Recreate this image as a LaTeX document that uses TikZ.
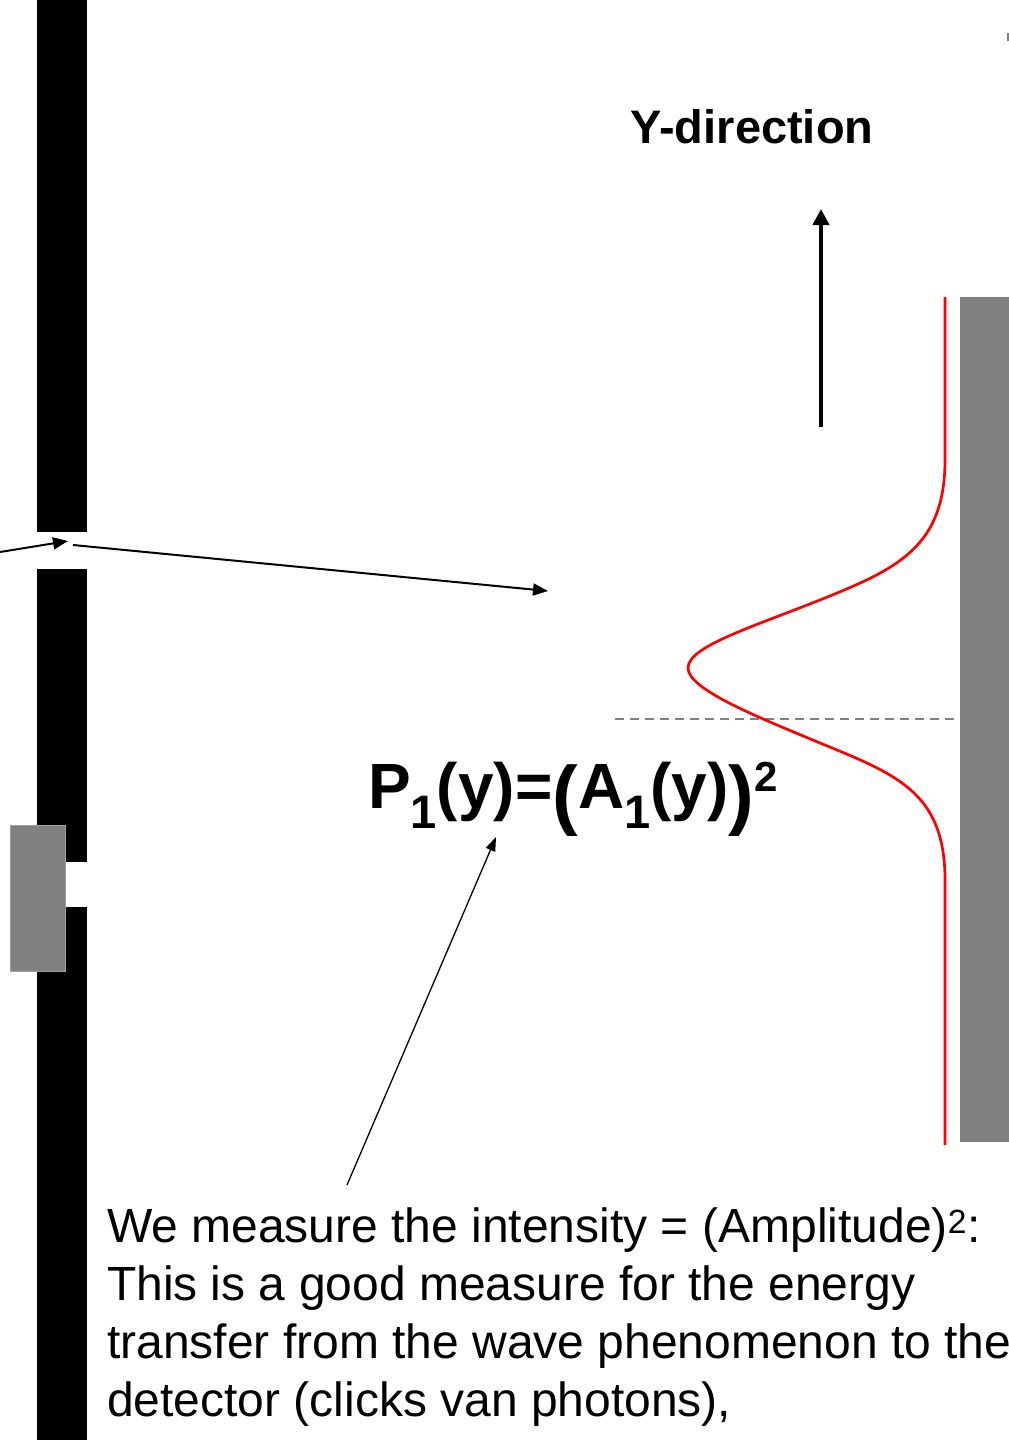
\documentclass[tikz,border=0pt]{standalone}
\usepackage{fontspec}
\setmainfont{Liberation Sans}
\usetikzlibrary{arrows.meta}
\definecolor{detgray}{RGB}{128,128,128}
\tikzset{
  wall/.style={fill=black, draw=none},
  shutter/.style={fill=detgray, draw=detgray!75!white, line width=1pt},
  ray/.style={line width=2pt, -{Triangle[length=15pt,width=12pt]}},
  pointer/.style={line width=1.3pt, -{Triangle[length=14pt,width=10pt]}},
  yarrow/.style={line width=4pt, -{Triangle[length=16pt,width=16pt]}},
  curve/.style={red, line width=2.7pt},
  axisline/.style={detgray, line width=1.5pt, dash pattern=on 9pt off 6pt},
  lbl/.style={inner sep=0pt, outer sep=0pt},
}
\begin{document}
\begin{tikzpicture}[x=1pt,y=-1pt]
\useasboundingbox (0,0) rectangle (1009,1440);
\fill[white] (0,0) rectangle (1009,1440);
% wall with slits
\fill[wall] (37,0) rectangle (87,532);
\fill[wall] (37,569) rectangle (87,862);
\fill[wall] (37,907) rectangle (87,1440);
\filldraw[shutter] (10,825) rectangle (65,971);
% detector screen
\fill[detgray] (960,297) rectangle (1009,1142);
\fill[detgray] (1007,33) rectangle (1009,41);
% dashed axis
\coordinate (axL) at (615,719);
\coordinate (axR) at (960,719);
\draw[axisline] (axL) -- (axR);
% intensity curve
\draw[curve] (945,297) -- (945,460)
  .. controls (945,540) and (905,565) .. (837,593)
  .. controls (760,625) and (688,645) .. (688,668)
  .. controls (688,690) and (760,718) .. (837,750)
  .. controls (905,778) and (945,800) .. (945,880)
  -- (945,1145);
% rays through slit
\coordinate (r0) at (0,552);
\coordinate (r1) at (68,541);
\coordinate (r2) at (73,545);
\coordinate (r3) at (548,591);
\draw[ray] (r0) -- (r1);
\draw[ray] (r2) -- (r3);
% Y direction
\coordinate (yb) at (821,427);
\coordinate (yt) at (821,209);
\draw[yarrow] (yb) -- (yt);
\node[lbl, anchor=base, font=\fontsize{47}{47}\selectfont\bfseries] (ydir) at (752,143) {Y-direction};
% formula
\node[lbl, anchor=base west, font=\fontsize{64}{64}\selectfont\bfseries] (formula) at (368,808)
 {P\raisebox{-20pt}{\fontsize{47}{47}\selectfont 1}(y)=\raisebox{-12pt}{\fontsize{77}{77}\selectfont(}A\raisebox{-20pt}{\fontsize{47}{47}\selectfont 1}(y)\raisebox{-12pt}{\fontsize{77}{77}\selectfont)}\raisebox{17pt}{\fontsize{42}{42}\selectfont 2}};
% explanatory text
\node[lbl, anchor=north west, align=left, font=\fontsize{48}{58}\selectfont] (expl) at (107,1208)
 {We measure the intensity = (Amplitude)\textsuperscript{2}:\\
  This is a good measure for the energy\\
  transfer from the wave phenomenon to the\\
  detector (clicks van photons),};
\coordinate (pt) at (347,1185);
\coordinate (ph) at (496,837);
\draw[pointer] (pt) -- (ph);
\end{tikzpicture}
\end{document}
